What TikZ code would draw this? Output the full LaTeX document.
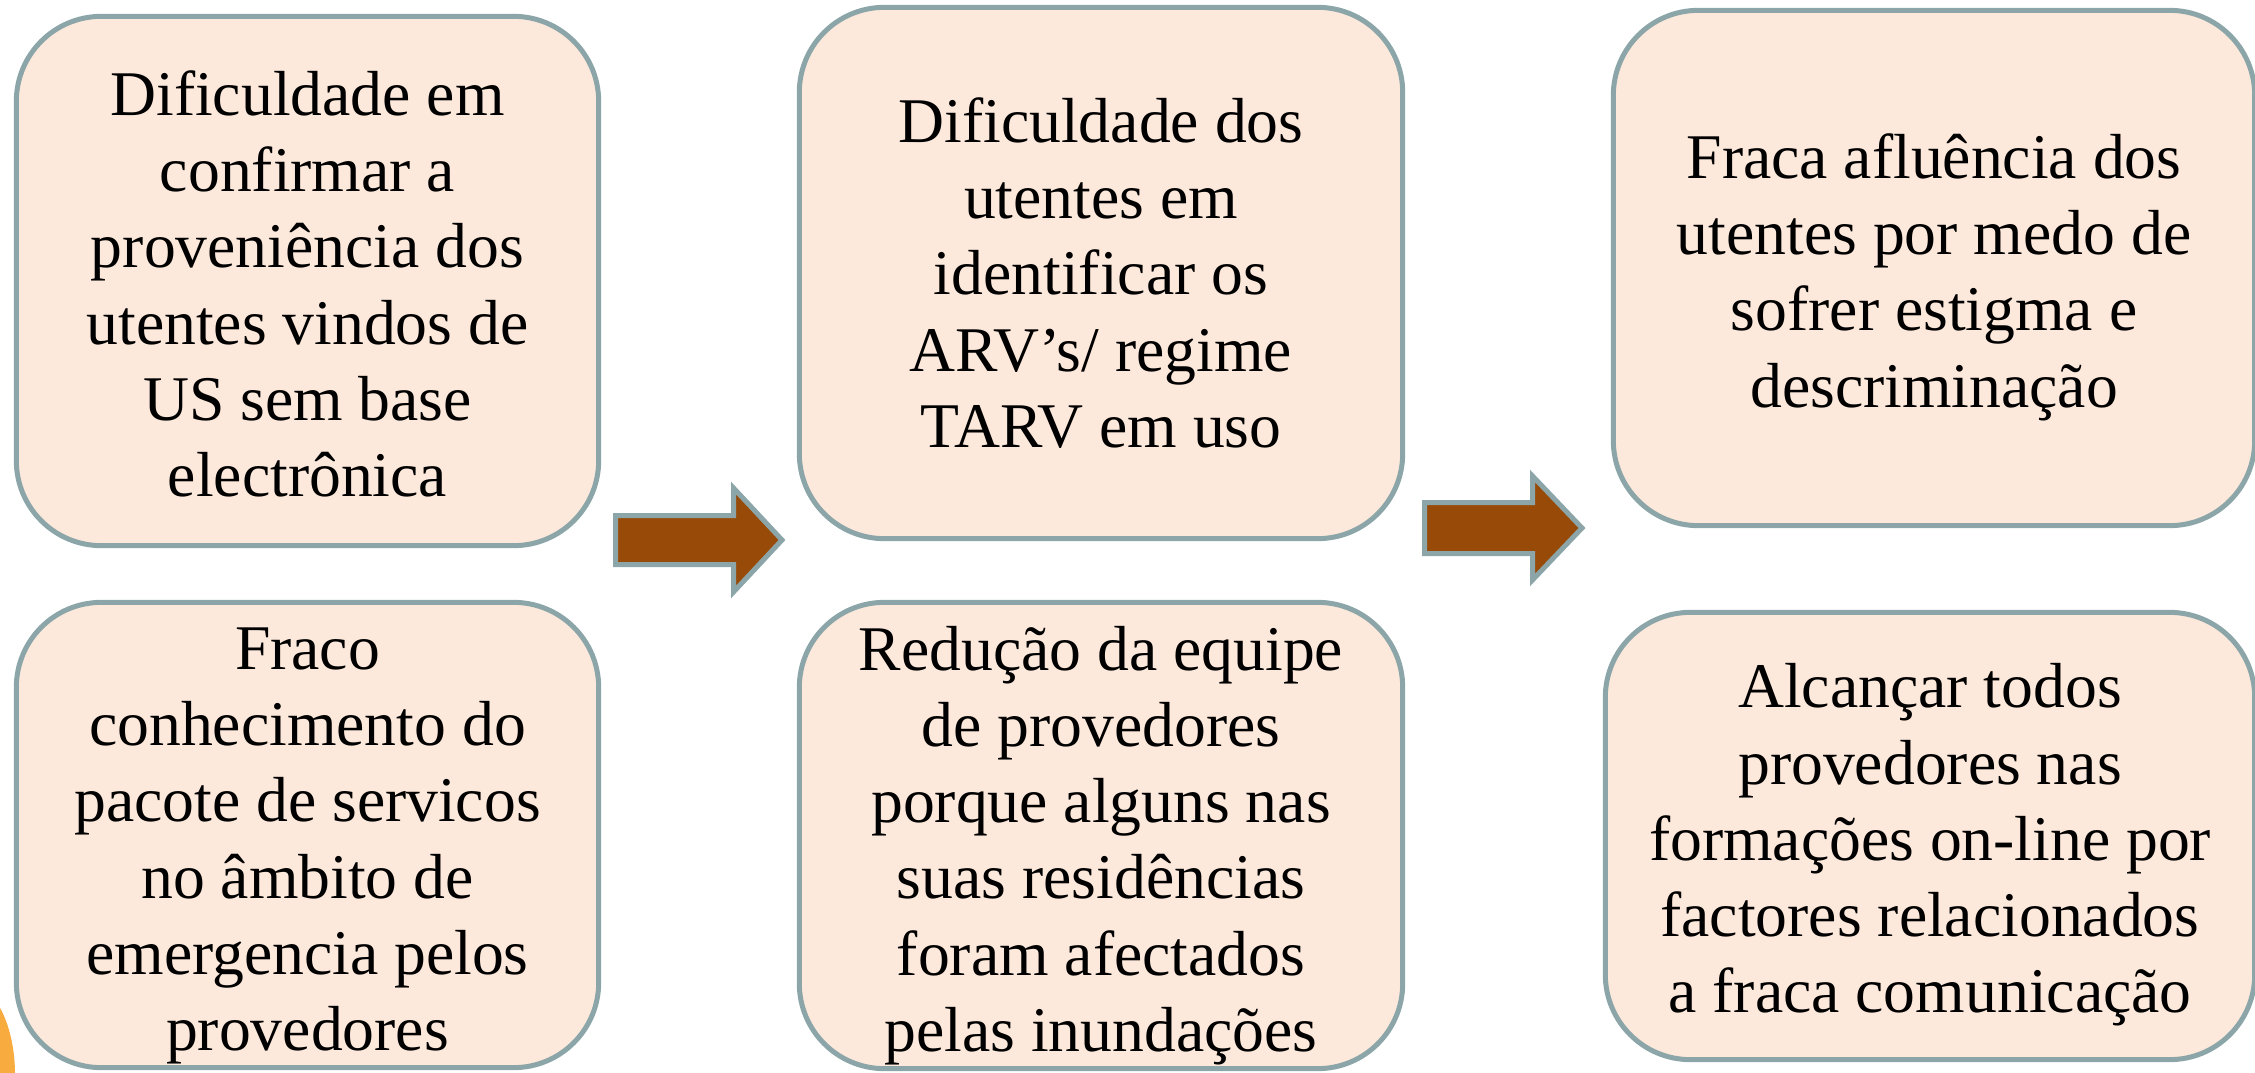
\documentclass[tikz,border=0pt]{standalone}
\usepackage{fontspec}
\setmainfont{Liberation Serif}
\definecolor{boxfill}{HTML}{FDE9DB}
\definecolor{boxline}{HTML}{8BA5A8}
\definecolor{arrfill}{HTML}{984A08}
\definecolor{blob}{HTML}{F8AC40}
\begin{document}
\begin{tikzpicture}[x=0.01cm,y=-0.01cm,
  card/.style={draw=boxline, fill=boxfill, line width=0.05cm, rounded corners=0.85cm,
    inner sep=0pt, outer sep=0pt},
  cardtext/.style={inner sep=0pt, align=center, font=\fontsize{18.1}{21.7}\selectfont},
  blockarrow/.style={draw=boxline, fill=arrfill, line width=0.05cm, line join=miter}]
\useasboundingbox (0,0) rectangle (2255,1073);
\clip (0,0) rectangle (2255,1073);
\fill[blob] (-30,1075) ellipse [x radius=0.45cm, y radius=0.9cm];
% boxes: outer extents minus line width
\node[card, minimum width=5.82cm, minimum height=5.29cm] (b1) at (307.5,281) {};
\node[card, minimum width=5.82cm, minimum height=4.65cm] (b2) at (307.5,835) {};
\node[card, minimum width=6.03cm, minimum height=5.31cm] (b3) at (1101,273) {};
\node[card, minimum width=6.03cm, minimum height=4.66cm] (b4) at (1101,835.5) {};
\node[card, minimum width=6.41cm, minimum height=5.15cm] (b5) at (1934,268) {};
\node[card, minimum width=6.49cm, minimum height=4.47cm] (b6) at (1930,836) {};
% texts
\node[cardtext] (t1) at ([yshift=-0.03cm]b1.center)
  {Dificuldade em\\confirmar a\\proveniência dos\\utentes vindos de\\US sem base\\electrônica};
\node[cardtext] (t2) at ([yshift=-0.11cm]b2.center)
  {Fraco\\conhecimento do\\pacote de servicos\\no âmbito de\\emergencia pelos\\provedores};
\node[cardtext] (t3) at ([yshift=0cm]b3.center)
  {Dificuldade dos\\utentes em\\identificar os\\ARV’s/ regime\\TARV em uso};
\node[cardtext] (t4) at ([yshift=-0.10cm]b4.center)
  {Redução da equipe\\de provedores\\porque alguns nas\\suas residências\\foram afectados\\pelas inundações};
\node[cardtext] (t5) at ([yshift=-0.09cm]b5.center)
  {Fraca afluência dos\\utentes por medo de\\sofrer estigma e\\descriminação};
\node[cardtext] (t6) at ([yshift=-0.09cm]b6.center)
  {Alcançar todos\\provedores nas\\formações on-line por\\factores relacionados\\a fraca comunicação};
% block arrows
\coordinate (a1) at (615.5,540);
\coordinate (a2) at (1424.5,528);
\draw[blockarrow] (a1) ++(0,-24.5) -- ++(118,0) -- ++(0,-27.5) -- ++(48.5,52) -- ++(-48.5,52)
  -- ++(0,-27.5) -- ++(-118,0) -- cycle;
\draw[blockarrow] (a2) ++(0,-25.5) -- ++(108,0) -- ++(0,-26.5) -- ++(49.5,52) -- ++(-49.5,52)
  -- ++(0,-26.5) -- ++(-108,0) -- cycle;
\end{tikzpicture}
\end{document}
